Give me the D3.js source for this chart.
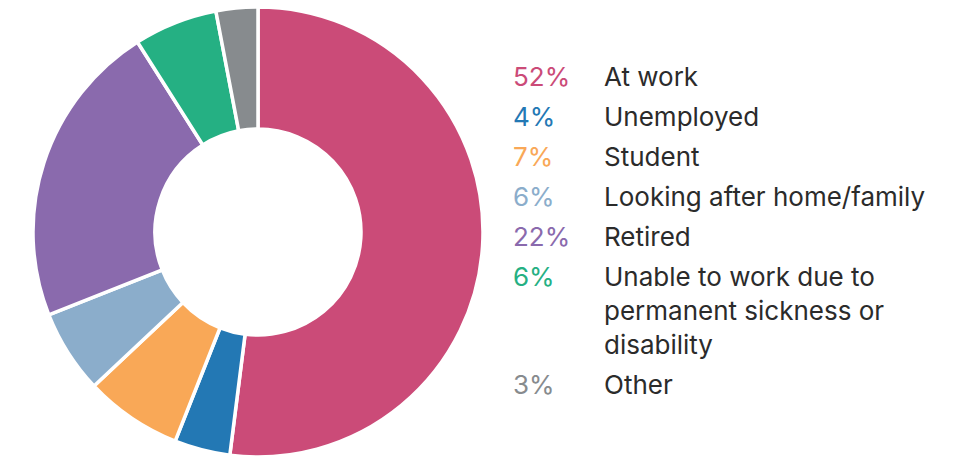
<!DOCTYPE html>
<html>
<head>
<meta charset="utf-8">
<script src="https://d3js.org/d3.v7.min.js"></script>
<style>
body { margin: 0; background: #fff; }
svg { display: block; }
</style>
</head>
<body>
<svg id="chart" width="963" height="458"></svg>
<script>
// data
var categories = ["At work", "Unemployed", "Student", "Looking after home/family", "Retired",
  "Unable to work due to|permanent sickness or|disability", "Other"];
var values = [52, 4, 7, 6, 22, 6, 3];
var colours = ["#cb4b78", "#2378b4", "#f9a857", "#8badcb", "#8a6aad", "#25b083", "#878b8e"];

var svg = d3.select("#chart");
var cx = 258, cy = 232;
var outerR = 225, innerR = 103;

var pie = d3.pie().sort(null).value(function(d) { return d; });
var arc = d3.arc().innerRadius(innerR).outerRadius(outerR);

var g = svg.append("g").attr("transform", "translate(" + cx + "," + cy + ")");
g.selectAll("path.slice").data(pie(values))
  .enter().append("path")
  .attr("class", "slice")
  .attr("d", arc)
  .attr("fill", function(d, i) { return colours[i]; })
  .attr("stroke", "#fff")
  .attr("stroke-width", 3.5)
  .attr("stroke-linejoin", "miter");

// legend
var pctX = 513, labX = 604;
var y = 86;
var leg = svg.append("g").style("font-family", "Inter, 'Open Sans', sans-serif").style("font-size", "26px");
categories.forEach(function(c, i) {
  leg.append("text")
    .attr("x", pctX).attr("y", y)
    .attr("fill", colours[i])
    .text(values[i] + "%");
  var lines = c.split("|");
  var t = leg.append("text").attr("x", labX).attr("y", y).attr("fill", "#2b2b2b");
  lines.forEach(function(l, j) {
    t.append("tspan").attr("x", labX).attr("dy", j === 0 ? 0 : 34).text(l);
  });
  y += 40 + (lines.length - 1) * 34;
});
</script>
</body>
</html>
